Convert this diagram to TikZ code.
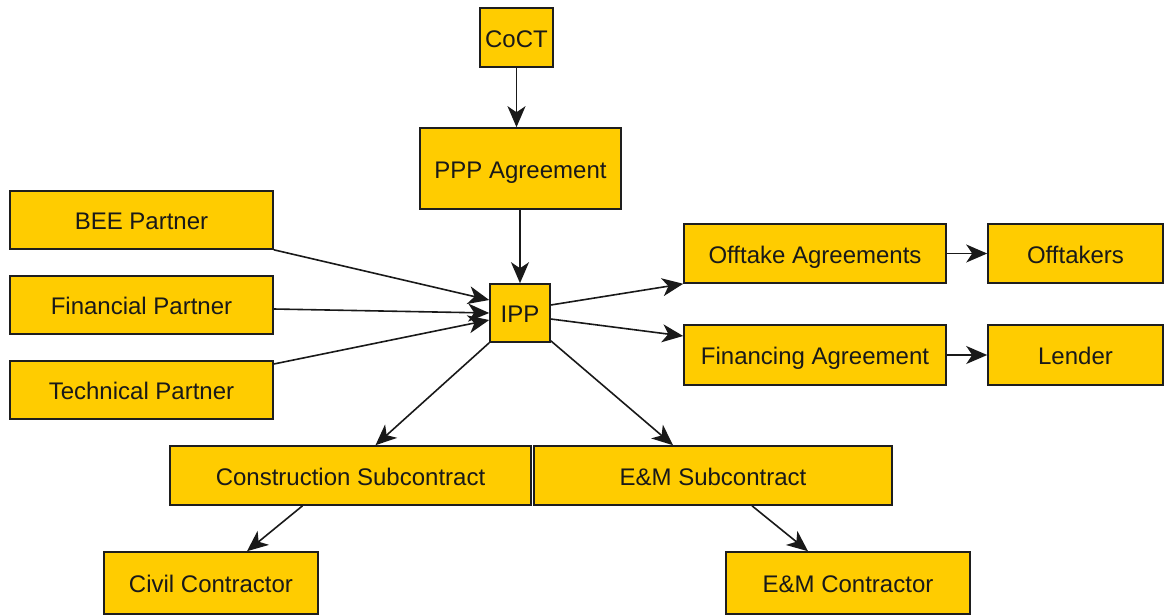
\documentclass[tikz,border=0pt]{standalone}
\usepackage{fontspec}
\setmainfont{Liberation Sans}
\usetikzlibrary{arrows.meta}
\definecolor{boxfill}{RGB}{255,204,0}
\definecolor{boxline}{RGB}{30,30,30}
\begin{document}
\begin{tikzpicture}[x=1pt,y=-1pt,
  box/.style={draw=boxline,fill=boxfill,line width=1.6pt,inner sep=0pt,
    text height=19pt,text depth=0pt,
    font=\fontsize{24}{28}\selectfont,text=black!90},
  conn/.style={draw=black!90,line width=1.6pt,-{Stealth[length=21pt,width=18pt,inset=6pt]}}]
\useasboundingbox (0,0) rectangle (1164,614);
\newcommand{\bx}[6]{\node[box,minimum width=#4,minimum height=#5] (#1) at (#2,#3) {#6};}
\bx{coct}{516.5}{37.5}{73pt}{59pt}{CoCT}
\bx{ppp}{520.5}{168.5}{201pt}{81pt}{PPP Agreement}
\bx{bee}{141.5}{220}{263pt}{58pt}{BEE Partner}
\bx{fin}{141.5}{305}{263pt}{58pt}{Financial Partner}
\bx{tech}{141.5}{390}{263pt}{58pt}{Technical Partner}
\bx{ipp}{520}{313}{60pt}{58pt}{IPP}
\bx{offa}{815}{253.5}{262pt}{59pt}{Offtake Agreements}
\bx{offt}{1075.5}{253.5}{175pt}{59pt}{Offtakers}
\bx{fina}{815}{355}{262pt}{60pt}{Financing Agreement}
\bx{lend}{1075.5}{355}{175pt}{60pt}{Lender}
\bx{cons}{350.5}{475.5}{361pt}{59pt}{Construction Subcontract}
\bx{ems}{713}{475.5}{358pt}{59pt}{E\&M Subcontract}
\bx{civ}{211}{583}{214pt}{62pt}{Civil Contractor}
\bx{emc}{848}{583}{244pt}{62pt}{E\&M Contractor}
\draw[conn] (coct.south) -- (coct.south |- ppp.north);
\draw[conn] (ppp.south -| ipp.north) -- (ipp.north);
\draw[conn] (bee.south east) -- ([yshift=13pt]ipp.west);
\draw[conn] ([yshift=-4pt]fin.east) -- (ipp.west);
\draw[conn] ([yshift=26pt]tech.east) -- ([yshift=-7pt]ipp.west);
\draw[conn] ([yshift=8pt]ipp.east) -- (offa.south west);
\draw[conn] ([yshift=-6pt]ipp.east) -- ([yshift=19pt]fina.west);
\draw[conn] (ipp.south west) -- ([xshift=25pt]cons.north);
\draw[conn] ([yshift=2pt]ipp.south east) -- ([xshift=-40pt]ems.north);
\draw[conn] (offa.east) -- (offt.west);
\draw[conn] (fina.east) -- (lend.west);
\draw[conn] ([xshift=-48pt]cons.south) -- ([xshift=36pt]civ.north);
\draw[conn] ([xshift=39pt]ems.south) -- ([xshift=-40pt]emc.north);
\end{tikzpicture}
\end{document}
